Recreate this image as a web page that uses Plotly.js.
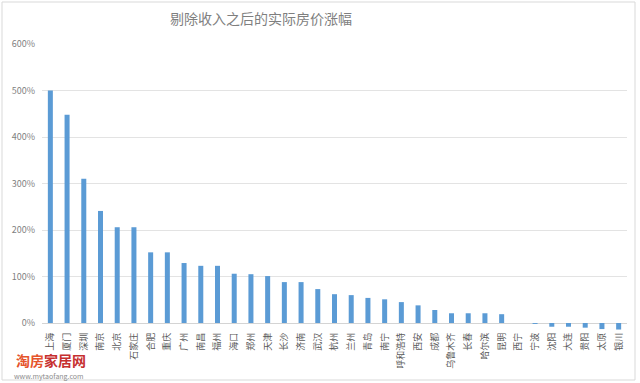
<!DOCTYPE html>
<html>
<head>
<meta charset="utf-8">
<script src="https://cdn.plot.ly/plotly-3.0.1.min.js"></script>
<style>html,body{margin:0;padding:0;background:#fff;}#chart{width:640px;height:383px;}</style>
</head>
<body>
<div id="chart"></div>
<script>
const cities = ["上海","厦门","深圳","南京","北京","石家庄","合肥","重庆","广州","南昌","福州","海口","郑州","天津","长沙","济南","武汉","杭州","兰州","青岛","南宁","呼和浩特","西安","成都","乌鲁木齐","长春","哈尔滨","昆明","西宁","宁波","沈阳","大连","贵阳","太原","银川"];
const growthPct = [500,448,310,241,206,206,152,152,129,123,123,106,105,101,88,88,73,62,60,54,51,45,38,28,21,21,21,19,0,-2,-8,-8,-10,-13,-14];
const yTicks = [0,100,200,300,400,500,600];
const yTickText = ["0%","100%","200%","300%","400%","500%","600%"];
const titleText = "剔除收入之后的实际房价涨幅";

const font = "'Noto Sans CJK SC', 'Microsoft YaHei', sans-serif";
const L = 42, R = 627, T = 44, B = 330, W = 640, H = 383;
const pw = R - L, ph = B - T;
const px = x => (x - L) / pw;
const py = y => (B - y) / ph;

Plotly.newPlot("chart", [{
  type: "bar",
  x: cities,
  y: growthPct,
  marker: {color: "#5b9bd5"},
  hoverinfo: "x+y"
}], {
  width: W, height: H,
  margin: {l: L, r: W - R, t: T, b: H - B, pad: 0},
  paper_bgcolor: "#fff",
  plot_bgcolor: "#fff",
  bargap: 0.7,
  showlegend: false,
  title: {text: titleText, font: {family: font, size: 14, color: "#7f7f7f"}, x: 261/640, xanchor: "center", y: 1 - 19/383, yanchor: "middle"},
  xaxis: {
    type: "category",
    tickangle: -90,
    tickfont: {family: font, size: 9, color: "#595959"},
    showgrid: false, showline: false, ticks: "", zeroline: false,
    automargin: false
  },
  yaxis: {
    range: [-15, 600],
    tickvals: yTicks,
    ticktext: yTickText,
    tickfont: {family: font, size: 9, color: "#7f7f7f"},
    showgrid: true, gridcolor: "#e3e3e3", gridwidth: 1,
    zeroline: true, zerolinecolor: "#d4d4d4", zerolinewidth: 1,
    showline: false, ticks: "", ticklabelstandoff: 6,
    automargin: false
  },
  shapes: [{
    type: "rect", xref: "paper", yref: "paper",
    x0: px(2), x1: px(635), y0: py(380), y1: py(2),
    line: {color: "#d9d9d9", width: 1}, fillcolor: "rgba(0,0,0,0)", layer: "below"
  }],
  annotations: [
    {xref: "paper", yref: "paper", x: px(14), y: py(360), xanchor: "left", yanchor: "middle", showarrow: false,
     text: "<b><span style='color:#e5542b'>淘房</span><span style='color:#c62f2f'>家居网</span></b>",
     font: {family: font, size: 14}},
    {xref: "paper", yref: "paper", x: px(12), y: py(376), xanchor: "left", yanchor: "middle", showarrow: false,
     text: "www.mytaofang.com", font: {family: font, size: 7, color: "#8c8c8c"}}
  ]
}, {displayModeBar: false, staticPlot: true});
</script>
</body>
</html>
